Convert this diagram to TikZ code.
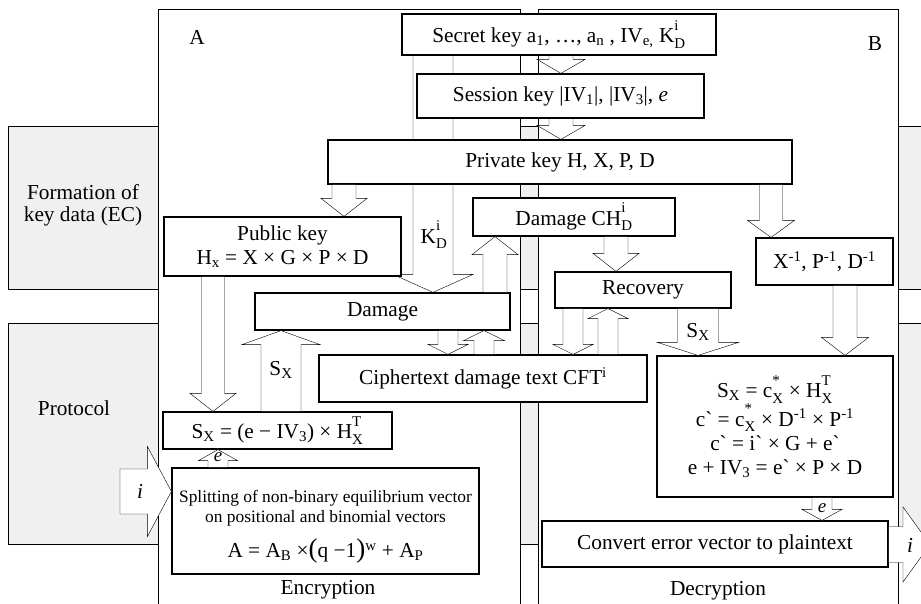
\documentclass[tikz,border=0pt]{standalone}
\usepackage{fontspec}
\setmainfont{Liberation Serif}
\usetikzlibrary{calc}

% superscript stacked over subscript, as in K^i_D
\newcommand{\supsub}[2]{\rlap{\raisebox{.22em}{\textsuperscript{#1}}}\raisebox{-.12em}{\textsubscript{#2}}}
\newcommand{\splitfont}{\fontsize{17.4}{19}\selectfont}
\newcommand{\bigpar}[1]{{\fontsize{27}{27}\selectfont#1}}

% vertical block arrow: x, from, to, half shaft, half head, head length (negative = up)
\newcommand{\arrv}[6]{%
  \draw[fat] let \p1=(#1,0 |- #2), \p2=(#1,0 |- #3) in
    (\x1-#4,\y1) -- (\x1-#4,{\y2+(#6)}) -- (\x1-#5,{\y2+(#6)}) -- (\p2)
    -- (\x1+#5,{\y2+(#6)}) -- (\x1+#4,{\y2+(#6)}) -- (\x1+#4,\y1) -- cycle;}
% horizontal block arrow pointing right: from, to, half shaft, half head, head length
\newcommand{\arrh}[5]{%
  \draw[fat] let \p1=#1, \p2=#2 in
    (\x1,\y2-#3) -- (\x2-#5,\y2-#3) -- (\x2-#5,\y2-#4) -- (\p2)
    -- (\x2-#5,\y2+#4) -- (\x2-#5,\y2+#3) -- (\x1,\y2+#3) -- cycle;}

\pgfdeclarelayer{back}
\pgfdeclarelayer{mid}
\pgfsetlayers{back,mid,main}

\tikzset{
  band/.style={draw, fill=black!6},
  panel/.style={draw, fill=white},
  box/.style={draw, fill=white, align=center, inner sep=1pt},
  fat/.style={draw, fill=white},
  tag/.style={inner sep=0pt},
}

\begin{document}
\begin{tikzpicture}[x=1pt, y=1pt, line width=1.2pt, font=\fontsize{21.3}{24}\selectfont]
\useasboundingbox (0,0) rectangle (921,603);

% key data
\node[box, minimum width=314, minimum height=41] (secret) at (559,568.5)
  {Secret key a\textsubscript{1}, \dots, a\textsubscript{n} , IV\textsubscript{e,} K\supsub{i}{D}};
\node[box, minimum width=287, minimum height=44] (session) at (560.5,507)
  {Session key |IV\textsubscript{1}|, |IV\textsubscript{3}|, \textit{e}};
\node[box, minimum width=464, minimum height=44] (priv) at (560,441)
  {Private key H, X, P, D};
\node[box, minimum width=237, minimum height=59] (pub) at (282.5,356.5)
  {Public key\\H\textsubscript{x} = X × G ×  P × D};
\node[box, minimum width=255, minimum height=37] (damage) at (382.5,291.5) {Damage};
\node[box, minimum width=202, minimum height=38] (damch) at (574,386) {Damage CH\supsub{i}{D}};
\node[box, minimum width=176, minimum height=36] (recov) at (643,313) {Recovery};
\node[box, minimum width=137, minimum height=47] (xinv) at (824.5,341.5)
  {X\textsuperscript{-1}, P\textsuperscript{-1}, D\textsuperscript{-1}};

% protocol
\node[box, minimum width=328, minimum height=47] (cipher) at (483,224.5)
  {Ciphertext damage text CFT\textsuperscript{i}};
\node[box, minimum width=236, minimum height=141] (formula) at (775,176.5)
  {S\textsubscript{X} = c\supsub{*}{X} × H\supsub{T}{X}\\
   c\textasciigrave{} = c\supsub{*}{X} × D\textsuperscript{-1} × P\textsuperscript{-1}\\
   c\textasciigrave{} = i\textasciigrave{} × G + e\textasciigrave\\
   e + IV\textsubscript{3} = e\textasciigrave{} × P × D};
\node[box, minimum width=229, minimum height=37] (sxbox) at (277.5,172.5)
  {S\textsubscript{X} = (e  − IV\textsubscript{3}) × H\supsub{T}{X}};
\node[box, minimum width=307, minimum height=106] (split) at (325.5,82) {};
\node[align=center] (splittext) at (325.5,76)
  {\splitfont Splitting of non-binary equilibrium vector\\[-4pt]
   \splitfont on positional and binomial  vectors\\[11pt]
   A = A\textsubscript{B} ×\bigpar{(}q −1\bigpar{)}\textsuperscript{w} + A\textsubscript{P}};
\node[box, minimum width=346, minimum height=46] (convert) at (715,59)
  {Convert error vector to plaintext};

\coordinate (iin) at (120,111.5);
\coordinate (iout) at (930,58.5);

\begin{pgfonlayer}{back}
  \draw[band] (8,477) rectangle (940,314);
  \draw[band] (8,280) rectangle (940,59);
  \draw[panel] (158,594) rectangle (520,-10);
  \draw[panel] (538,594) rectangle (898,-10);
\end{pgfonlayer}

% arrows passing behind the key boxes
\begin{pgfonlayer}{mid}
  \arrv{433}{secret.south}{damage.north}{20}{40}{18}
  \arrv{561}{secret.south}{session.north}{12}{24}{14}
  \arrv{561}{session.south}{priv.north}{12}{24}{14}
\end{pgfonlayer}

\arrv{344}{priv.south}{pub.north}{12}{23}{18}
\arrv{771}{priv.south}{xinv.north}{11.5}{23.5}{17}
\arrv{213}{pub.south}{sxbox.north}{11.5}{23}{18}
\arrv{281}{sxbox.north}{damage.south}{20}{39}{-14}
\arrv{218}{split.north}{sxbox.south}{10}{19.5}{-11}
\arrv{495}{damage.north}{damch.south}{12}{23}{-18}
\arrv{616}{damch.south}{recov.north}{12}{23}{18}
\arrv{845}{xinv.south}{formula.north}{12}{23.5}{18}
\arrv{698}{recov.south}{formula.north}{20.5}{40.5}{13}
\arrv{448}{damage.south}{cipher.north}{10}{20}{10}
\arrv{484}{cipher.north}{damage.south}{10}{20.5}{-10}
\arrv{573}{recov.south}{cipher.north}{10}{20}{10}
\arrv{608}{cipher.north}{recov.south}{10}{20}{-10}
\arrv{822}{formula.south}{convert.north}{10}{20}{11}
\arrh{(iin)}{(split.west |- iin)}{22.5}{45}{24}
\arrh{(convert.east)}{(iout)}{18}{37.5}{27}

% labels
\node[tag] (lblA) at (197,566) {A};
\node[tag] (lblB) at (875,559) {B};
\node[align=center] (formation) at (83,398) {Formation of\\[-2pt]key data (EC)};
\node (protocol) at (74,195) {Protocol};
\node (encr) at (328,13) {Encryption};
\node (decr) at (718,12) {Decryption};
\node (klabel) at (434,368) {K\supsub{i}{D}};
\node (sxleft) at (281,233) {S\textsubscript{X}};
\node (sxright) at (698,271) {S\textsubscript{X}};
\node[font=\fontsize{19}{20}\selectfont\itshape] (eleft) at (218,146) {e};
\node[font=\fontsize{19}{20}\selectfont\itshape] (eright) at (822,95) {e};
\node (ileft) at (140,112) {\textit{i}};
\node (iright) at (910,58) {\textit{i}};
\end{tikzpicture}
\end{document}
